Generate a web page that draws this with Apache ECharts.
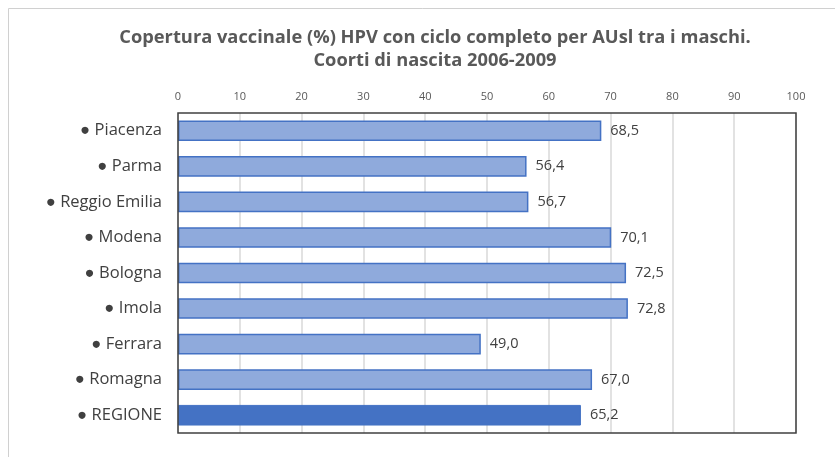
<!DOCTYPE html>
<html>
<head>
<meta charset="utf-8">
<script src="https://cdn.jsdelivr.net/npm/echarts@6/dist/echarts.min.js"></script>
<style>
  html, body { margin: 0; padding: 0; background: #fff; }
  #chart { width: 835px; height: 457px; }
</style>
</head>
<body>
<div id="chart"></div>
<script>
  // AUsl (top to bottom as in the picture)
  const categories = ['Piacenza', 'Parma', 'Reggio Emilia', 'Modena', 'Bologna', 'Imola', 'Ferrara', 'Romagna', 'REGIONE'];
  const coverage = [68.5, 56.4, 56.7, 70.1, 72.5, 72.8, 49.0, 67.0, 65.2];

  const chart = echarts.init(document.getElementById('chart'));
  chart.setOption({
    backgroundColor: '#fff',
    animation: false,
    title: {
      text: 'Copertura vaccinale (%) HPV con ciclo completo per AUsl tra i maschi.\nCoorti di nascita 2006-2009',
      left: 430,
      textAlign: 'center',
      top: 21,
      textStyle: {
        fontFamily: 'Open Sans',
        fontSize: 18.3,
        fontWeight: 'bold',
        color: '#595959',
        lineHeight: 23
      }
    },
    graphic: [{
      type: 'rect',
      shape: { x: 8.5, y: 8.5, width: 840, height: 460 },
      style: { fill: 'none', stroke: '#d0d0d0', lineWidth: 1 }
    }, {
      // plot area frame
      type: 'rect', z: 100,
      shape: { x: 178, y: 113, width: 618, height: 320 },
      style: { fill: 'none', stroke: '#404040', lineWidth: 1.5 }
    }],
    grid: {
      left: 178, right: 39, top: 113, bottom: 24
    },
    xAxis: {
      type: 'value',
      position: 'top',
      min: 0, max: 100, interval: 10,
      axisLine: { show: false },
      axisTick: { show: false },
      axisLabel: { color: '#595959', fontSize: 11, fontFamily: 'Open Sans', margin: 11 },
      splitLine: { lineStyle: { color: '#d9d9d9', width: 1.5 } }
    },
    yAxis: {
      type: 'category',
      inverse: true,
      data: categories,
      axisLine: { show: false },
      axisTick: { show: false },
      axisLabel: {
        color: '#404040', fontSize: 16.5, fontFamily: 'Open Sans', margin: 16,
        formatter: v => '\u25CF ' + v
      }
    },
    series: [{
      type: 'bar',
      barWidth: '58%',
      data: coverage.map((v, i) => ({
        value: v,
        itemStyle: i === coverage.length - 1
          ? { color: '#4472c4', borderColor: '#4472c4', borderWidth: 1 }
          : { color: '#8faadc', borderColor: '#4472c4', borderWidth: 1.5 }
      })),
      label: {
        show: true,
        position: 'right',
        distance: 9,
        color: '#404040',
        fontSize: 14.5,
        fontFamily: 'Open Sans',
        formatter: p => p.value.toFixed(1).replace('.', ',')
      }
    }]
  });
</script>
</body>
</html>
